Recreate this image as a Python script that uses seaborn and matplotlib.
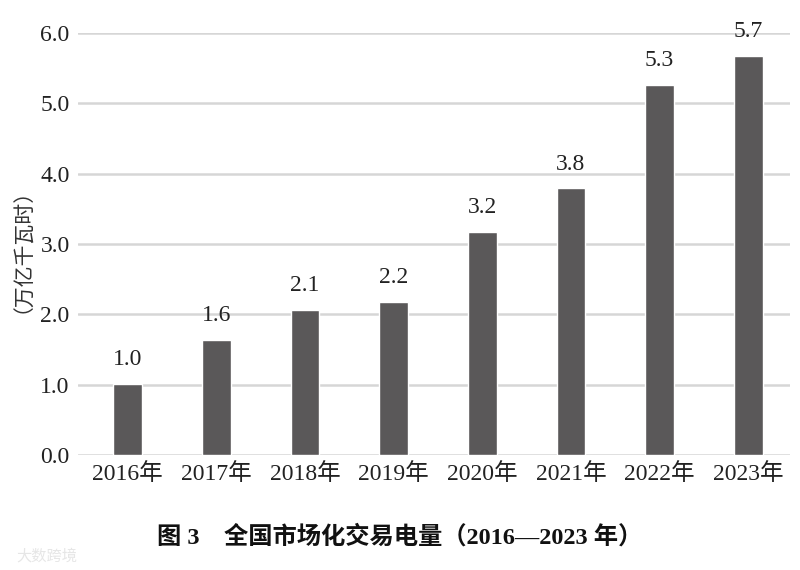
import matplotlib
matplotlib.use('Agg')
import matplotlib.pyplot as plt
import seaborn as sns
import pandas as pd

years = ['2016年', '2017年', '2018年', '2019年', '2020年', '2021年', '2022年', '2023年']
volume = [1.01, 1.63, 2.06, 2.18, 3.17, 3.79, 5.26, 5.67]
value_labels = ['1.0', '1.6', '2.1', '2.2', '3.2', '3.8', '5.3', '5.7']
y_ticks = [0.0, 1.0, 2.0, 3.0, 4.0, 5.0, 6.0]

df = pd.DataFrame({'year': years, 'volume': volume})

sns.set_style('white')
plt.rcParams['font.family'] = ['Liberation Serif', 'Noto Sans CJK SC', 'DejaVu Sans']

fig = plt.figure(figsize=(8, 5.7), dpi=100)
ax = fig.add_axes([0.0975, 0.202, 0.89, 0.740])

sns.barplot(data=df, x='year', y='volume', color='#5a5859', saturation=1,
            width=0.32, ax=ax, zorder=3)

ax.bar_label(ax.containers[0], labels=value_labels, padding=10, fontsize=17, color='#222222')

ax.set_ylim(0, 6.0)
ax.set_xlim(-0.56, 7.47)
ax.set_yticks(y_ticks)
ax.set_yticklabels([f'{t:.1f}' for t in y_ticks])
ax.yaxis.grid(True, color='#d6d6d6', linewidth=1.8, zorder=0)
ax.set_axisbelow(True)
for s in ax.spines.values():
    s.set_visible(False)
ax.tick_params(axis='both', length=0, labelsize=17, colors='#222222')
ax.tick_params(axis='x', pad=6)
ax.tick_params(axis='y', pad=6)
ax.set_xlabel('')
ax.set_ylabel('（万亿千瓦时）', fontsize=15, color='#333333',
              family=['Noto Sans CJK SC', 'DejaVu Sans'])
ax.yaxis.set_label_coords(-0.077, 0.51)

fig.text(0.5, 0.058, '图 3    全国市场化交易电量（2016—2023 年）', ha='center', va='center',
         fontsize=17.5, fontweight='bold', color='#111111',
         family=['Liberation Serif', 'Noto Sans CJK SC', 'DejaVu Sans'])

fig.text(0.02, 0.025, '大数跨境', ha='left', va='center', fontsize=11, color='#e6e6e6',
         family=['Noto Sans CJK SC', 'DejaVu Sans'])

fig.savefig('out.png', dpi=100)
